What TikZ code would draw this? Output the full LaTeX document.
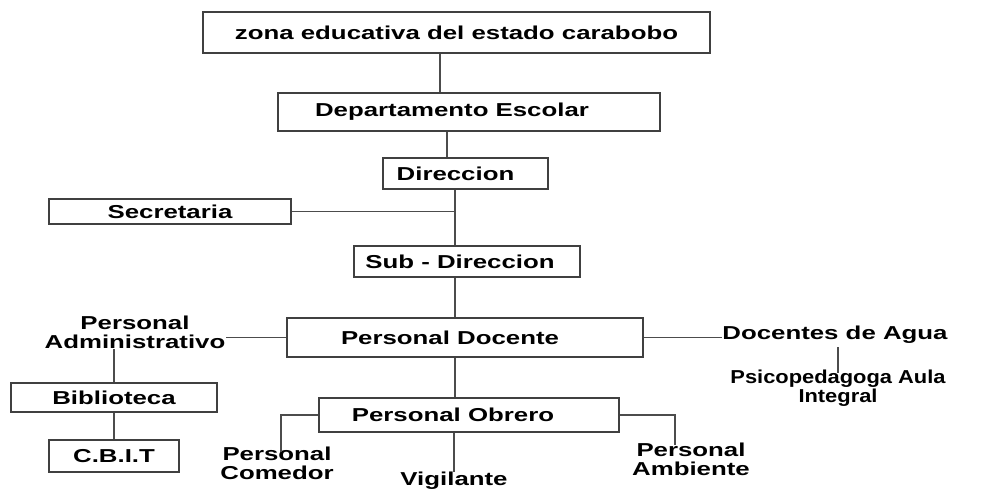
\documentclass[tikz,border=0pt]{standalone}
\usepackage{fontspec}
\setmainfont[FakeStretch=1.38]{Liberation Sans}
\newfontfamily\narrowfont[FakeStretch=1.17]{Liberation Sans}
\usetikzlibrary{positioning}
\newcommand\orgfont{\fontsize{18.7}{19}\selectfont\bfseries}
\tikzset{box/.style={draw=black!75, line width=1.2pt, font=\orgfont, inner sep=0pt},
         txt/.style={font=\orgfont, align=center, inner sep=0pt},
         link/.style={draw=black!70, line width=1.2pt},
         nudge/.style={execute at begin node={\hspace*{#1pt}}}}

\begin{document}
\begin{tikzpicture}[x=1pt,y=-1pt]
\useasboundingbox (0,0) rectangle (984,491);
% boxes
\node[box, minimum width=507, minimum height=41] (zona) at (456.5,32.5) {zona educativa del estado carabobo};
\node[box, minimum width=382, minimum height=38, nudge=-34] (dep) at (469,112) {Departamento Escolar};
\node[box, minimum width=165, minimum height=31, nudge=-20] (dir) at (465.5,173.5) {Direccion};
\node[box, minimum width=242, minimum height=25] (sec) at (170,211.5) {Secretaria};
\node[box, minimum width=226, minimum height=31, nudge=-14] (sub) at (467,261.5) {Sub - Direccion};
\node[box, minimum width=356, minimum height=39, nudge=-30] (doc) at (465,337.5) {Personal Docente};
\node[box, minimum width=206, minimum height=29] (bib) at (114,397.5) {Biblioteca};
\node[box, minimum width=130, minimum height=32] (cbit) at (114,456) {C.B.I.T};
\node[box, minimum width=300, minimum height=34, nudge=-32] (obr) at (469,415) {Personal Obrero};
% plain labels
\node[txt] (adm) at (135,332) {Personal\\Administrativo};
\node[txt] (agua) at (835,335) {Docentes de Agua};
\node[txt, font=\orgfont\narrowfont] (psico) at (838,388) {Psicopedagoga Aula\\Integral};
\node[txt] (com) at (277,463) {Personal\\Comedor};
\node[txt] (vig) at (454,481) {Vigilante};
\node[txt] (amb) at (691,459) {Personal\\Ambiente};
% connectors
\coordinate (zonab) at ([xshift=-16.5pt]zona.south);
\coordinate (depb) at ([xshift=-22pt]dep.south);
\coordinate (dirb) at ([xshift=-10.5pt]dir.south);
\coordinate (docb) at ([xshift=-10pt]doc.south);
\draw[link] (zonab) -- (zonab |- dep.north);
\draw[link] (depb) -- (depb |- dir.north);
\draw[link] (dirb) -- (dirb |- sub.north);
\draw[link] (sec.east) -- (sec.east -| dirb);
\draw[link] ([xshift=-12pt]sub.south) -- ([xshift=-12pt]sub.south |- doc.north);
\draw[link] (doc.west) -- (doc.west -| adm.east);
\draw[link] (bib.north) -- (bib.north |- adm.south);
\draw[link] (bib.south) -- (cbit.north);
\draw[link] (doc.east) -- (doc.east -| agua.west);
\draw[link] ([yshift=-3pt]psico.north) -- ([yshift=-3pt]psico.north |- agua.south);
\draw[link] (docb) -- (docb |- obr.north);
\draw[link] (obr.west) -| ([xshift=4pt,yshift=-6pt]com.north);
\draw[link] (vig.north) -- (vig.north |- obr.south);
\draw[link] (obr.east) -| ([xshift=-16pt,yshift=-3pt]amb.north);
\end{tikzpicture}
\end{document}
